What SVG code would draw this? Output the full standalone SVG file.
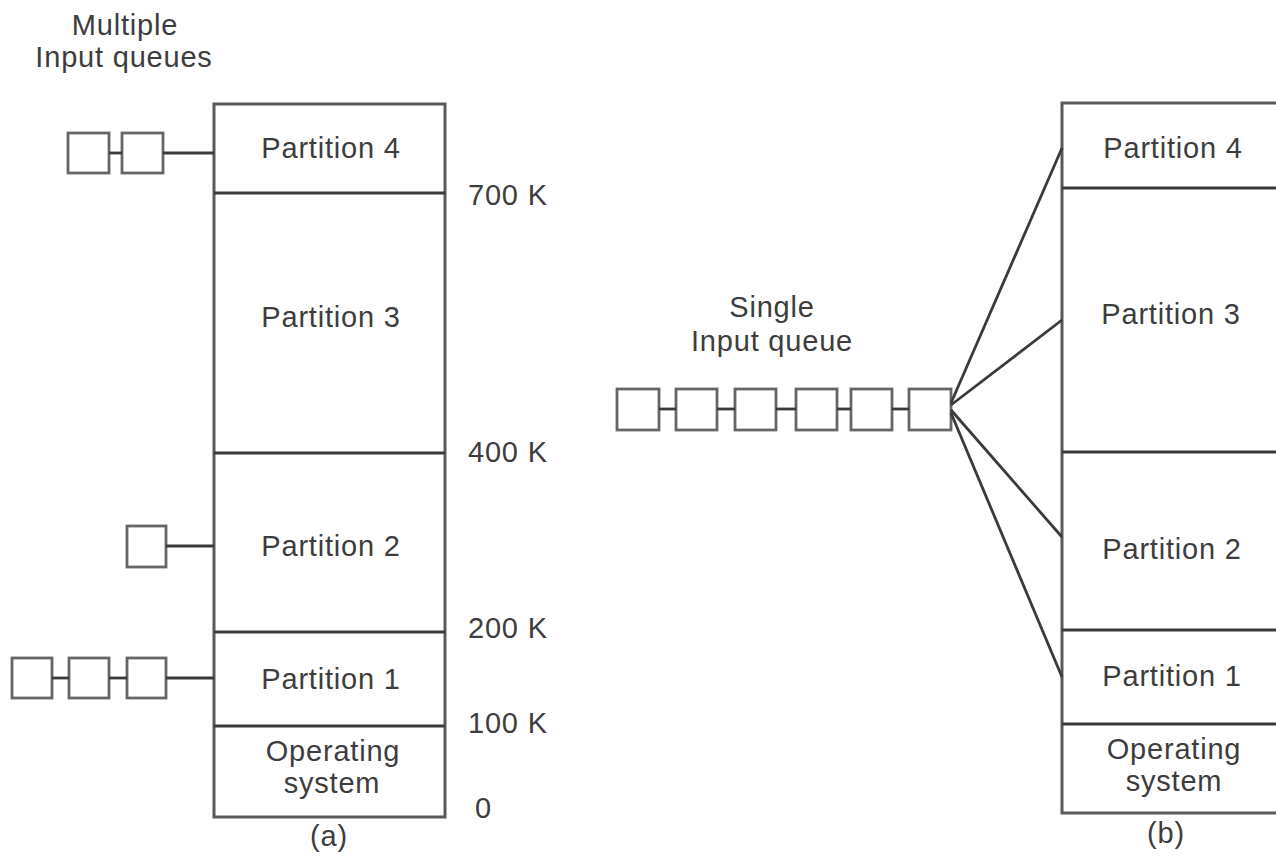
<svg xmlns="http://www.w3.org/2000/svg" width="1276" height="857" viewBox="0 0 1276 857">
<style>
  .t { font-family: "Liberation Sans", Arial, sans-serif; font-size: 29px; fill: #3d3d3d; letter-spacing: 0.8px; }
  .c { text-anchor: middle; }
  .box { fill: #ffffff; stroke: #5a5a5a; stroke-width: 3; }
  .div { stroke: #3a3a3a; stroke-width: 3; }
  .q { fill: #ffffff; stroke: #666666; stroke-width: 2.8; }
  .ln { stroke: #3a3a3a; stroke-width: 2.8; fill: none; }
</style>
<rect width="1276" height="857" fill="#ffffff"/>

<!-- (a) Multiple input queues -->
<g id="label-multiple">
  <text class="t c" x="125" y="35">Multiple</text>
  <text class="t c" x="124" y="67">Input queues</text>
</g>

<g id="memory-a">
  <rect class="box" x="214" y="104" width="231" height="713"/>
  <line class="div" x1="214" y1="193" x2="445" y2="193"/>
  <line class="div" x1="214" y1="453" x2="445" y2="453"/>
  <line class="div" x1="214" y1="632" x2="445" y2="632"/>
  <line class="div" x1="214" y1="726" x2="445" y2="726"/>
  <text class="t c" x="331" y="158">Partition 4</text>
  <text class="t c" x="331" y="327">Partition 3</text>
  <text class="t c" x="331" y="556">Partition 2</text>
  <text class="t c" x="331" y="689">Partition 1</text>
  <text class="t c" x="333" y="761">Operating</text>
  <text class="t c" x="332" y="793">system</text>
  <text class="t c" x="329" y="846">(a)</text>
</g>

<g id="addresses">
  <text class="t" x="468" y="205">700 K</text>
  <text class="t" x="468" y="462">400 K</text>
  <text class="t" x="468" y="638">200 K</text>
  <text class="t" x="468" y="733">100 K</text>
  <text class="t" x="475" y="818">0</text>
</g>

<g id="queue-p4">
  <rect class="q" x="68" y="133" width="41" height="40"/>
  <rect class="q" x="122" y="133" width="41" height="40"/>
</g>
<g id="queue-p2">
  <rect class="q" x="127" y="526" width="39" height="41"/>
</g>
<g id="queue-p1">
  <rect class="q" x="12" y="658" width="40" height="40"/>
  <rect class="q" x="69" y="658" width="40" height="40"/>
  <rect class="q" x="127" y="658" width="39" height="40"/>
</g>

<!-- (b) Single input queue -->
<g id="label-single">
  <text class="t c" x="772" y="317">Single</text>
  <text class="t c" x="772" y="351">Input queue</text>
</g>

<g id="memory-b">
  <rect class="box" x="1062" y="103" width="240" height="710"/>
  <line class="div" x1="1062" y1="188" x2="1280" y2="188"/>
  <line class="div" x1="1062" y1="452" x2="1280" y2="452"/>
  <line class="div" x1="1062" y1="630" x2="1280" y2="630"/>
  <line class="div" x1="1062" y1="724" x2="1280" y2="724"/>
  <text class="t c" x="1173" y="158">Partition 4</text>
  <text class="t c" x="1171" y="324">Partition 3</text>
  <text class="t c" x="1172" y="559">Partition 2</text>
  <text class="t c" x="1172" y="686">Partition 1</text>
  <text class="t c" x="1174" y="759">Operating</text>
  <text class="t c" x="1174" y="791">system</text>
  <text class="t c" x="1166" y="843">(b)</text>
</g>

<g id="queue-single">
  <rect class="q" x="617" y="389" width="42" height="41"/>
  <rect class="q" x="676" y="389" width="41" height="41"/>
  <rect class="q" x="735" y="389" width="41" height="41"/>
  <rect class="q" x="796" y="389" width="41" height="41"/>
  <rect class="q" x="851" y="389" width="41" height="41"/>
  <rect class="q" x="909" y="389" width="42" height="41"/>
</g>

<g id="connectors">
  <!-- (a) -->
  <line class="ln" x1="109" y1="153" x2="122" y2="153"/>
  <line class="ln" x1="163" y1="153" x2="214" y2="153"/>
  <line class="ln" x1="166" y1="546" x2="214" y2="546"/>
  <line class="ln" x1="52" y1="678" x2="69" y2="678"/>
  <line class="ln" x1="109" y1="678" x2="127" y2="678"/>
  <line class="ln" x1="166" y1="678" x2="214" y2="678"/>
  <!-- (b) queue links -->
  <line class="ln" x1="659" y1="409" x2="676" y2="409"/>
  <line class="ln" x1="717" y1="409" x2="735" y2="409"/>
  <line class="ln" x1="776" y1="409" x2="796" y2="409"/>
  <line class="ln" x1="837" y1="409" x2="851" y2="409"/>
  <line class="ln" x1="892" y1="409" x2="909" y2="409"/>
  <!-- fan to partitions -->
  <line class="ln" x1="951" y1="403" x2="1062" y2="148"/>
  <line class="ln" x1="951" y1="405" x2="1062" y2="320"/>
  <line class="ln" x1="951" y1="410" x2="1062" y2="537"/>
  <line class="ln" x1="951" y1="413" x2="1062" y2="677"/>
</g>
</svg>
